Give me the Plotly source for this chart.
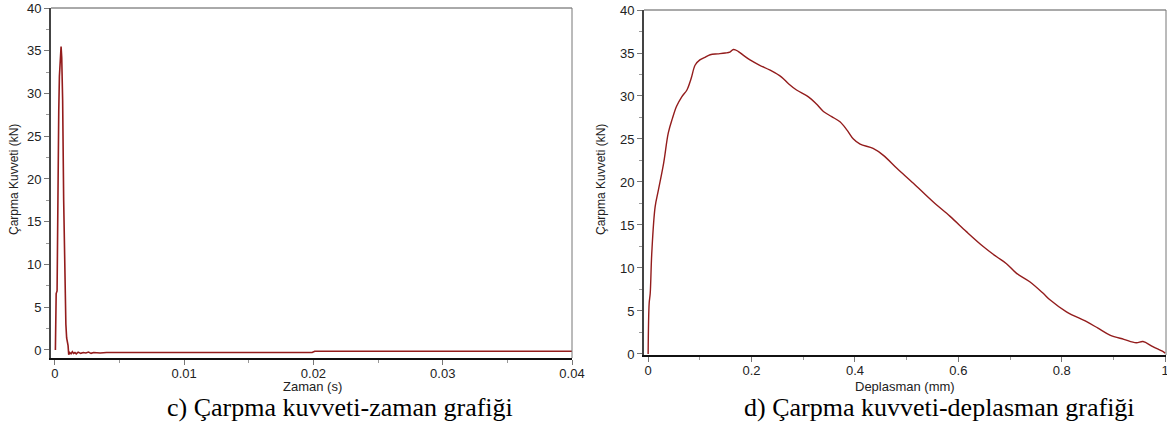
import plotly.graph_objects as go

# ---- data ----
time_s = [0.00004, 0.00007, 0.0001, 0.00017, 0.0002, 0.00025, 0.0003, 0.00035, 0.00042, 0.00048,
          0.00053, 0.0006, 0.00068, 0.00074, 0.00079, 0.00085, 0.00091, 0.00097, 0.00102, 0.00107,
          0.00115, 0.00125, 0.00135, 0.00145, 0.00155, 0.00165, 0.0018, 0.002, 0.0022, 0.0024,
          0.0026, 0.0028, 0.003, 0.0035, 0.004, 0.006, 0.01, 0.015, 0.0199, 0.0201, 0.03, 0.04]
force_time = [0, 5.0, 6.6, 6.9, 13.6, 22.6, 28, 32, 34.5, 35.5,
              34.2, 29.2, 17.5, 10, 5.8, 3, 1.4, 1.0, 0.5, -0.55,
              -0.3, -0.45, -0.2, -0.4, -0.3, -0.45, -0.25, -0.4, -0.3, -0.35,
              -0.25, -0.4, -0.3, -0.35, -0.3, -0.3, -0.3, -0.3, -0.3, -0.15, -0.15, -0.15]

disp_mm = [0, 0.002, 0.004, 0.007, 0.0135, 0.02, 0.03, 0.039, 0.047, 0.055, 0.065, 0.075, 0.083,
           0.091, 0.1, 0.11, 0.12, 0.135, 0.149, 0.158, 0.165, 0.174, 0.185, 0.197, 0.215, 0.236,
           0.258, 0.272, 0.287, 0.31, 0.325, 0.339, 0.355, 0.371, 0.385, 0.397, 0.41, 0.435, 0.455,
           0.481, 0.513, 0.551, 0.584, 0.616, 0.648, 0.674, 0.693, 0.712, 0.738, 0.764, 0.777, 0.809,
           0.848, 0.87, 0.893, 0.92, 0.944, 0.957, 0.976, 0.996, 1.0]
force_disp = [0, 5.9, 7.05, 11.7, 17.1, 19.1, 22.2, 25.7, 27.4, 28.8, 29.9, 30.7, 32.0,
              33.6, 34.2, 34.5, 34.8, 34.9, 35.0, 35.1, 35.4, 35.2, 34.7, 34.2, 33.6, 33.0,
              32.2, 31.4, 30.7, 29.9, 29.1, 28.2, 27.6, 27.0, 26.0, 25.0, 24.4, 23.9, 23.1,
              21.6, 19.85, 17.7, 16.0, 14.2, 12.5, 11.3, 10.5, 9.4, 8.4, 7.05, 6.3, 4.9,
              3.75, 3.0, 2.2, 1.7, 1.3, 1.45, 0.85, 0.27, 0.1]

time_ticks = [0, 0.01, 0.02, 0.03, 0.04]
time_ticklabels = ["0", "0.01", "0.02", "0.03", "0.04"]
disp_ticks = [0, 0.2, 0.4, 0.6, 0.8, 1.0]
disp_ticklabels = ["0", "0.2", "0.4", "0.6", "0.8", "1"]

y_title = "Çarpma Kuvveti (kN)"
x_title_left = "Zaman (s)"
x_title_right = "Deplasman (mm)"
caption_left = "c) Çarpma kuvveti-zaman grafiği"
caption_right = "d) Çarpma kuvveti-deplasman grafiği"

W, H = 1167, 427
LINE = "#931c1c"
TICKFONT = dict(family="Liberation Sans, Arial", size=13, color="#222")

fig = go.Figure()
fig.add_trace(go.Scatter(x=time_s, y=force_time, mode="lines",
                         line=dict(color=LINE, width=1.6), xaxis="x", yaxis="y",
                         showlegend=False))
fig.add_trace(go.Scatter(x=disp_mm, y=force_disp, mode="lines", line_shape="spline",
                         line=dict(color=LINE, width=1.4), xaxis="x2", yaxis="y2",
                         showlegend=False))

def px_x(p):
    return p / W

def px_y(p):
    return (H - p) / H

common_x = dict(showgrid=False, zeroline=False, showline=True, linecolor="#111", linewidth=2,
                ticks="outside", ticklen=5, tickcolor="#777", tickwidth=1,
                tickfont=TICKFONT, automargin=False, ticklabelstandoff=-3,
                ticklabeloverflow="allow")
common_y = dict(showgrid=False, zeroline=False, showline=True, linecolor="#444", linewidth=2,
                ticks="outside", ticklen=5, tickcolor="#777", tickwidth=1,
                tickfont=TICKFONT, tick0=0, dtick=5, automargin=False,
                minor=dict(dtick=2.5, ticklen=3, tickcolor="#999", ticks="outside"))

fig.update_layout(
    width=W, height=H, margin=dict(l=0, r=0, t=0, b=0, autoexpand=False),
    paper_bgcolor="white", plot_bgcolor="white",
    xaxis=dict(domain=[px_x(51), px_x(572)], range=[-0.0003, 0.04], anchor="y",
               tickmode="array", tickvals=time_ticks, ticktext=time_ticklabels,
               minor=dict(dtick=0.005, tick0=0, ticklen=3, tickcolor="#999", ticks="outside"),
               **common_x),
    yaxis=dict(domain=[px_y(358), px_y(8)], range=[-0.94, 40], anchor="x", **common_y),
    xaxis2=dict(domain=[px_x(644), px_x(1166)], range=[-0.008, 1.0015], anchor="y2",
                tickmode="array", tickvals=disp_ticks, ticktext=disp_ticklabels,
                minor=dict(dtick=0.1, tick0=0, ticklen=3, tickcolor="#999", ticks="outside"),
                **common_x),
    yaxis2=dict(domain=[px_y(355), px_y(10)], range=[-0.12, 40], anchor="x2", **common_y),
)

# thin frame lines on top and right of each panel
for xd, yd in (("x", "y"), ("x2", "y2")):
    fig.add_shape(type="line", xref=f"{xd} domain", yref=f"{yd} domain",
                  x0=0, x1=1, y0=1, y1=1, line=dict(color="#555", width=1))
    fig.add_shape(type="line", xref=f"{xd} domain", yref=f"{yd} domain",
                  x0=1, x1=1, y0=0, y1=1, line=dict(color="#777", width=1))

TITLEFONT = dict(family="Liberation Sans, Arial", size=13, color="#222")
ann = [
    dict(text=y_title, x=px_x(14), y=px_y(180), textangle=-90,
         font=dict(family="Liberation Sans, Arial", size=12, color="#222")),
    dict(text=y_title, x=px_x(601), y=px_y(180), textangle=-90,
         font=dict(family="Liberation Sans, Arial", size=12, color="#222")),
    dict(text=x_title_left, x=px_x(312), y=px_y(386), font=TITLEFONT),
    dict(text=x_title_right, x=px_x(905), y=px_y(386), font=TITLEFONT),
    dict(text=caption_left, x=px_x(340), y=px_y(407),
         font=dict(family="Liberation Serif, Times New Roman", size=26, color="#000")),
    dict(text=caption_right, x=px_x(939), y=px_y(407),
         font=dict(family="Liberation Serif, Times New Roman", size=26, color="#000")),
]
for a in ann:
    fig.add_annotation(xref="paper", yref="paper", showarrow=False,
                       xanchor="center", yanchor="middle", **a)

fig.write_html("out.html", config={"displayModeBar": False},
               post_script="document.body.style.margin='0px';")
